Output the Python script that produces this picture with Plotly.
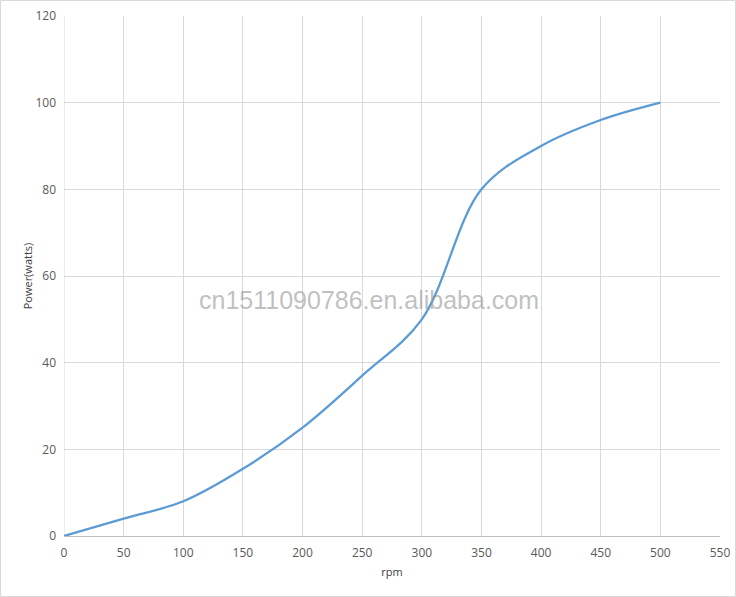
import plotly.graph_objects as go

rpm = [0, 50, 100, 150, 200, 250, 300, 350, 400, 450, 500]
power = [0, 4, 8, 15.5, 25, 37, 50, 80, 90, 96, 100]

x_ticks = list(range(0, 551, 50))
y_ticks = list(range(0, 121, 20))

fig = go.Figure()
fig.add_trace(go.Scatter(
    x=rpm, y=power, mode="lines",
    line=dict(color="#5B9BD5", width=2.25, shape="spline", smoothing=1),
    showlegend=False, hoverinfo="skip",
))

tick_font = dict(family="Open Sans, Liberation Sans, sans-serif", size=12, color="#595959")
title_font = dict(family="Open Sans, Liberation Sans, sans-serif", size=11, color="#404040")

fig.update_layout(
    width=736, height=597,
    margin=dict(l=64, r=16, t=16, b=61, autoexpand=False),
    paper_bgcolor="white", plot_bgcolor="white",
    xaxis=dict(
        range=[0, 550], tickvals=x_ticks, showgrid=True, gridcolor="#D9D9D9", gridwidth=1,
        zeroline=False, showline=True, linecolor="#BFBFBF", linewidth=1,
        ticks="", tickfont=tick_font, ticklabelstandoff=6, automargin=False,
        title=dict(text="rpm", font=title_font, standoff=7),
    ),
    yaxis=dict(
        range=[0, 120], tickvals=y_ticks, showgrid=True, gridcolor="#D9D9D9", gridwidth=1,
        zeroline=False, showline=False, automargin=False,
        ticks="", tickfont=tick_font, ticklabelstandoff=7,
        title=dict(text="Power(watts)", font=title_font, standoff=0),
    ),
)

# vertical gridline at x=0
fig.add_shape(type="line", xref="x", yref="y", x0=0, x1=0, y0=0, y1=120,
              line=dict(color="#D9D9D9", width=1), layer="below")

# outer chart border
fig.add_shape(type="rect", xref="paper", yref="paper",
              x0=-63.5/656, x1=(735.5-64)/656, y0=(536-596.5)/520, y1=(536-0.5)/520,
              line=dict(color="#D9D9D9", width=1))

# watermark
fig.add_annotation(text="cn1511090786.en.alibaba.com", xref="paper", yref="paper",
                   x=(369-64)/656, y=(536-300)/520, showarrow=False,
                   font=dict(family="Liberation Sans, Arial, sans-serif", size=25, color="rgba(150,150,150,0.6)"))

fig.write_html("out.html", config={"displayModeBar": False},
               post_script="document.body.style.margin='0px';document.body.style.overflow='hidden';")
